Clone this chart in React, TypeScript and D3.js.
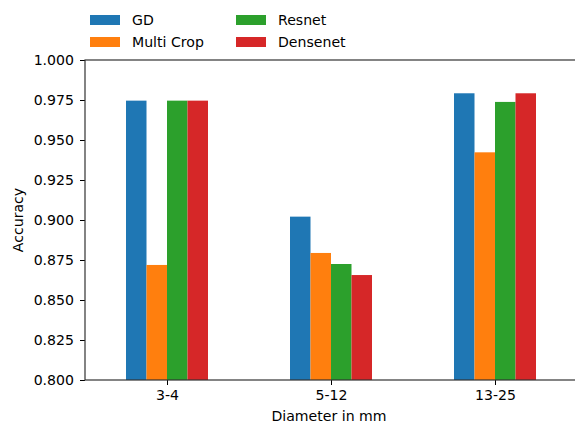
import * as d3 from "d3";
import { useEffect, useRef } from "react";

// data
const categories = ["3-4", "5-12", "13-25"];
const seriesNames = ["GD", "Multi Crop", "Resnet", "Densenet"];
const gdValues = [0.9746, 0.9021, 0.9792];
const multiCropValues = [0.8719, 0.8794, 0.9423];
const resnetValues = [0.9746, 0.8725, 0.9738];
const densenetValues = [0.9746, 0.8656, 0.9792];
const yTicks = [0.8, 0.825, 0.85, 0.875, 0.9, 0.925, 0.95, 0.975, 1.0];

const colors = ["#1f77b4", "#ff7f0e", "#2ca02c", "#d62728"];

const App = () => {
    const ref = useRef<SVGSVGElement>(null);

    const width = 575;
    const height = 424;
    const margin = { top: 60, left: 85, right: -2, bottom: 44 };
    const plotW = width - margin.left - margin.right;
    const plotH = height - margin.top - margin.bottom;

    useEffect(() => {
        const svg = d3.select(ref.current);
        svg.selectAll("*").remove();

        const font = "DejaVu Sans, sans-serif";
        const fs = 14.1;
        const allSeries = [gdValues, multiCropValues, resnetValues, densenetValues];

        // pandas style positions: 0..n-1, limits -0.5 .. n-0.5
        const x = d3.scaleLinear()
            .domain([-0.5, categories.length - 0.5])
            .range([0, plotW]);
        const y = d3.scaleLinear().domain([0.8, 1.0]).range([plotH, 0]);

        const g = svg.append("g").attr("transform", `translate(${margin.left},${margin.top})`);

        const barW = 0.5 / allSeries.length;
        allSeries.forEach((vals, si) => {
            g.selectAll(`.bar-${si}`)
                .data(vals)
                .enter()
                .append("rect")
                .attr("x", (d, i) => x(i - 0.25 + si * barW))
                .attr("y", d => y(d))
                .attr("width", x(barW) - x(0))
                .attr("height", d => plotH - y(d))
                .attr("fill", colors[si]);
        });

        // y axis
        const yAxis = d3.axisLeft(y)
            .tickValues(yTicks)
            .tickFormat(d3.format(".3f"))
            .tickSize(5)
            .tickPadding(6);
        const ya = g.append("g").call(yAxis);
        ya.select(".domain").remove();
        ya.selectAll("line").attr("stroke", "#000").attr("stroke-width", 1);
        ya.selectAll("text").attr("font-family", font).attr("font-size", fs).attr("fill", "#000");

        // x axis
        const xAxis = d3.axisBottom(x)
            .tickValues(categories.map((c, i) => i))
            .tickFormat((d) => categories[d as number])
            .tickSize(5)
            .tickPadding(5);
        const xa = g.append("g").attr("transform", `translate(0,${plotH})`).call(xAxis);
        xa.select(".domain").remove();
        xa.selectAll("line").attr("stroke", "#000").attr("stroke-width", 1);
        xa.selectAll("text").attr("font-family", font).attr("font-size", fs).attr("fill", "#000");

        // spines
        g.append("rect")
            .attr("x", 0)
            .attr("y", 0)
            .attr("width", plotW)
            .attr("height", plotH)
            .attr("fill", "none")
            .attr("stroke", "#333")
            .attr("stroke-width", 1.2);

        // axis labels
        svg.append("text")
            .attr("x", margin.left + plotW / 2 - 2)
            .attr("y", 421)
            .attr("text-anchor", "middle")
            .attr("font-family", font)
            .attr("font-size", fs)
            .text("Diameter in mm");

        svg.append("text")
            .attr("transform", `translate(23,${margin.top + plotH / 2}) rotate(-90)`)
            .attr("text-anchor", "middle")
            .attr("font-family", font)
            .attr("font-size", fs)
            .text("Accuracy");

        // legend, two columns
        seriesNames.forEach((name, i) => {
            const col = Math.floor(i / 2);
            const row = i % 2;
            const lx = 90 + col * 146;
            const ly = 15 + row * 22;
            svg.append("rect")
                .attr("x", lx)
                .attr("y", ly)
                .attr("width", 30)
                .attr("height", 10)
                .attr("fill", colors[i]);
            svg.append("text")
                .attr("x", lx + 42)
                .attr("y", ly + 10)
                .attr("font-family", font)
                .attr("font-size", fs)
                .text(name);
        });
    }, []);

    return (
        <svg
            ref={ref}
            width={width}
            height={height}
            style={{ position: "absolute", left: 0, top: 0, background: "#fff" }}
        ></svg>
    );
};

export default App;
